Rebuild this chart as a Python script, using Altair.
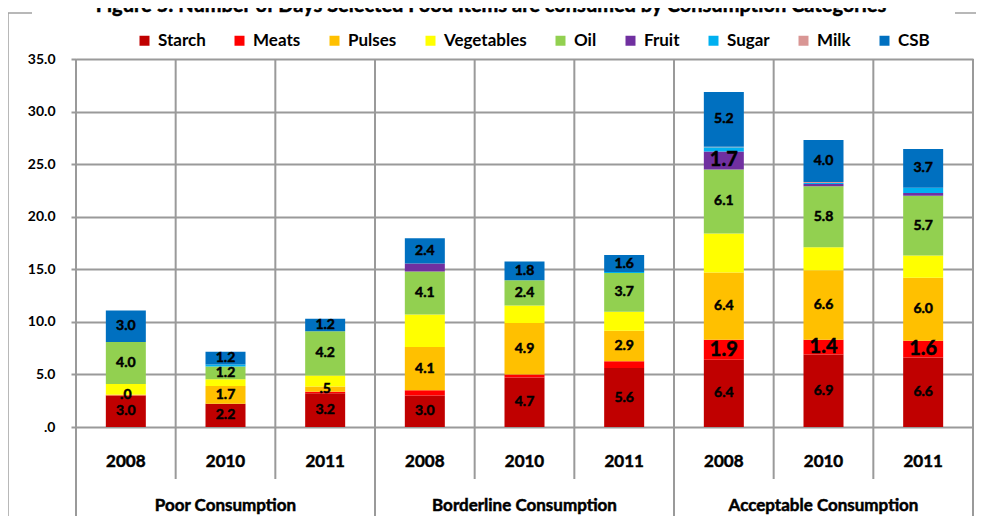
import altair as alt
import pandas as pd

title_text = "Figure 5: Number of Days Selected Food Items are consumed by Consumption Categories"
groups = ["Poor Consumption", "Borderline Consumption", "Acceptable Consumption"]
years = ["2008", "2010", "2011"]
foods = ["Starch", "Meats", "Pulses", "Vegetables", "Oil", "Fruit", "Sugar", "Milk", "CSB"]
colors = ["#C00000", "#FF0000", "#FFC000", "#FFFF00", "#92D050", "#7030A0", "#00B0F0", "#D99694", "#0070C0"]

# columns: Poor 2008, 2010, 2011, Borderline 2008, 2010, 2011, Acceptable 2008, 2010, 2011
starch = [3.0, 2.2, 3.2, 3.0, 4.7, 5.6, 6.4, 6.9, 6.6]
meats = [0.03, 0.0, 0.15, 0.5, 0.3, 0.65, 1.9, 1.4, 1.6]
pulses = [0.05, 1.7, 0.5, 4.1, 4.9, 2.9, 6.4, 6.6, 6.0]
vegetables = [1.0, 0.65, 1.05, 3.1, 1.65, 1.8, 3.7, 2.2, 2.1]
oil = [4.0, 1.2, 4.2, 4.1, 2.4, 3.7, 6.1, 5.8, 5.7]
fruit = [0.0, 0.0, 0.0, 0.75, 0.0, 0.0, 1.7, 0.2, 0.25]
sugar = [0.0, 0.2, 0.0, 0.0, 0.0, 0.1, 0.4, 0.1, 0.5]
milk = [0.0, 0.0, 0.0, 0.0, 0.0, 0.0, 0.05, 0.1, 0.0]
csb = [3.0, 1.2, 1.2, 2.4, 1.8, 1.6, 5.2, 4.0, 3.7]

# data label display: 0 = none, 1 = normal, 2 = large
starch_lbl = [1, 1, 1, 1, 1, 1, 1, 1, 1]
meats_lbl = [1, 0, 0, 0, 0, 0, 2, 2, 2]
pulses_lbl = [0, 1, 1, 1, 1, 1, 1, 1, 1]
vegetables_lbl = [0, 0, 0, 0, 0, 0, 0, 0, 0]
oil_lbl = [1, 1, 1, 1, 1, 1, 1, 1, 1]
fruit_lbl = [0, 0, 0, 0, 0, 0, 2, 0, 0]
sugar_lbl = [0, 0, 0, 0, 0, 0, 0, 0, 0]
milk_lbl = [0, 0, 0, 0, 0, 0, 0, 0, 0]
csb_lbl = [1, 1, 1, 1, 1, 1, 1, 1, 1]

series = [starch, meats, pulses, vegetables, oil, fruit, sugar, milk, csb]
labels = [starch_lbl, meats_lbl, pulses_lbl, vegetables_lbl, oil_lbl, fruit_lbl, sugar_lbl, milk_lbl, csb_lbl]

keys = [f"{g}|{y}" for g in groups for y in years]


def excel_fmt(v):
    s = f"{v:.1f}"
    return s[1:] if s.startswith("0") else s


rows = []
for ci, key in enumerate(keys):
    base = 0.0
    for fi, food in enumerate(foods):
        v = series[fi][ci]
        lv = labels[fi][ci]
        rows.append({
            "key": key, "food": food, "order": fi, "value": v,
            "start": base, "end": base + v, "mid": base + v / 2,
            "label": excel_fmt(v) if lv else "",
            "fs": 20 if lv == 2 else 14,
        })
        base += v
df = pd.DataFrame(rows)
df_lbl = df[df["label"] != ""]

df_keys = pd.DataFrame({
    "key": keys,
    "group": [g for g in groups for _ in years],
    "year": [y for _ in groups for y in years],
})

W, H = 897, 368
GRID = "#9a9a9a"
FONT = "Lato"
WEIGHT = "bold"
TXT = dict(font=FONT, fontWeight=WEIGHT, color="#000000", stroke="#000000", strokeWidth=0.5)

xscale = alt.Scale(domain=keys, paddingInner=0, paddingOuter=0)
yscale = alt.Scale(domain=[0, 35], nice=False)
yaxis = alt.Axis(
    values=[0, 5, 10, 15, 20, 25, 30, 35], grid=True, gridColor=GRID, gridWidth=2,
    tickColor=GRID, tickWidth=2, tickSize=5, domain=False,
    labelExpr="datum.value == 0 ? '.0' : format(datum.value, '.1f')",
    labelFont=FONT, labelFontWeight=WEIGHT, labelFontSize=14, labelColor="#000000",
    labelPadding=16, title=None,
)

bars = alt.Chart(df).mark_bar(size=40).encode(
    x=alt.X("key:N", scale=xscale, axis=None),
    y=alt.Y("start:Q", scale=yscale, axis=yaxis),
    y2="end:Q",
    color=alt.Color("food:N", scale=alt.Scale(domain=foods, range=colors), legend=alt.Legend(
        title=None, orient="none", legendX=60, legendY=-27, direction="horizontal", columns=9,
        symbolType="square", symbolSize=100, symbolStrokeWidth=0, labelFont=FONT,
        labelFontWeight=WEIGHT, labelFontSize=17, labelColor="#000000", labelOffset=5,
        columnPadding=25,
    )),
    order=alt.Order("order:Q", sort="ascending"),
)

seg_text = alt.Chart(df_lbl).mark_text(baseline="middle", **TXT).encode(
    x=alt.X("key:N", scale=xscale, axis=None),
    y=alt.Y("mid:Q", scale=yscale, axis=yaxis),
    text="label:N",
    size=alt.Size("fs:Q", scale=None),
)

inner = alt.Chart(df_keys[df_keys["year"] != "2008"]).mark_rule(color=GRID, strokeWidth=2).encode(
    x=alt.X("key:N", scale=xscale, axis=None, bandPosition=0),
    y=alt.value(0), y2=alt.value(H + 52),
)
outer = alt.Chart(df_keys[df_keys["year"] == "2008"]).mark_rule(color=GRID, strokeWidth=2).encode(
    x=alt.X("key:N", scale=xscale, axis=None, bandPosition=0),
    y=alt.value(0), y2=alt.value(H + 89),
)
last = alt.Chart(df_keys.tail(1)).mark_rule(color=GRID, strokeWidth=2).encode(
    x=alt.X("key:N", scale=xscale, axis=None, bandPosition=1),
    y=alt.value(0), y2=alt.value(H + 89),
)

year_text = alt.Chart(df_keys).mark_text(fontSize=17, baseline="middle", **TXT).encode(
    x=alt.X("key:N", scale=xscale, axis=None),
    y=alt.value(H + 35),
    text="year:N",
)
group_text = alt.Chart(df_keys[df_keys["year"] == "2010"]).mark_text(fontSize=17, baseline="middle", **TXT).encode(
    x=alt.X("key:N", scale=xscale, axis=None),
    y=alt.value(H + 79),
    text="group:N",
)

one = pd.DataFrame({"t": [title_text]})
frame_left = alt.Chart(one).mark_rule(color="#a0a0a0", strokeWidth=1.5).encode(
    x=alt.value(-68), y=alt.value(-46), y2=alt.value(H + 89))
frame_top_l = alt.Chart(one).mark_rule(color="#a0a0a0", strokeWidth=1.5).encode(
    x=alt.value(-68), x2=alt.value(-44), y=alt.value(-46))
frame_top_r = alt.Chart(one).mark_rule(color="#a0a0a0", strokeWidth=1.5).encode(
    x=alt.value(879), x2=alt.value(905), y=alt.value(-46))
title = alt.Chart(one).mark_text(fontSize=20, align="center", baseline="alphabetic", **TXT).encode(
    x=alt.value(415), y=alt.value(-47), text="t:N")

chart = alt.layer(
    frame_left, frame_top_l, frame_top_r, title,
    inner, outer, last, bars, seg_text, year_text, group_text,
).properties(
    width=W, height=H,
    padding={"left": 68, "top": 51, "right": 3, "bottom": 89},
    autosize=alt.AutoSizeParams(type="none"),
    background="white",
).configure_view(stroke=None)

chart.save("out.html", embed_options={"renderer": "svg", "actions": False})
